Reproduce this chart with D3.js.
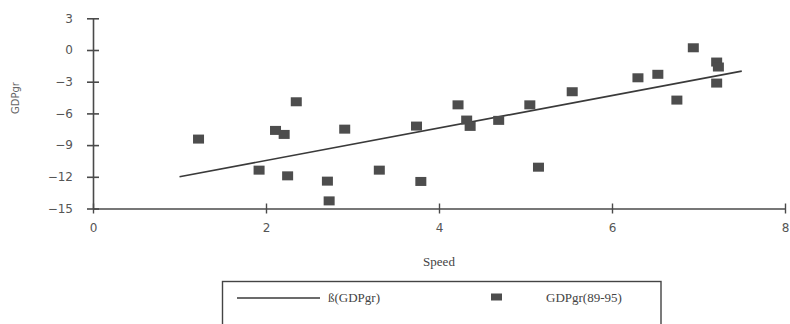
<!DOCTYPE html>
<html>
<head>
<meta charset="utf-8">
<script src="https://cdn.jsdelivr.net/npm/d3@7"></script>
<style>
  html, body { margin: 0; padding: 0; background: #fff; }
  svg { display: block; }
</style>
</head>
<body>
<svg id="chart" width="790" height="324"></svg>
<script>
// ---- data ----
const speed = [1.22, 1.92, 2.11, 2.21, 2.25, 2.35, 2.71, 2.73, 2.91, 3.31, 3.74, 3.79, 4.22, 4.32, 4.36, 4.69, 5.05, 5.15, 5.54, 6.30, 6.53, 6.75, 6.94, 7.21, 7.23, 7.21];
const gdpgr = [-8.43, -11.37, -7.61, -7.99, -11.91, -4.9, -12.41, -14.28, -7.49, -11.37, -7.2, -12.44, -5.19, -6.63, -7.23, -6.66, -5.19, -11.09, -3.95, -2.63, -2.3, -4.74, 0.21, -1.14, -1.61, -3.13];
const fitX = [1.0, 7.5];
const fitY = [-12.0, -2.0];
const xTicks = [0, 2, 4, 6, 8];
const yTicks = [3, 0, -3, -6, -9, -12, -15];
const legendLabels = ["ß(GDPgr)", "GDPgr(89-95)"];
const xTitle = "Speed";
const yTitle = "GDPgr";

// ---- layout ----
const svg = d3.select("#chart");
const x = d3.scaleLinear().domain([0, 8]).range([93, 785]);
const y = d3.scaleLinear().domain([-15, 3]).range([208.5, 18.3]);
const axisColor = "#4a4a4a";
const tickFont = "'DejaVu Sans', sans-serif";
const serif = "'Liberation Serif', 'Times New Roman', serif";

// y axis
const yAxis = svg.append("g").attr("transform", `translate(${x(0)},0)`)
  .call(d3.axisLeft(y).tickValues(yTicks).tickSize(6).tickSizeOuter(0).tickPadding(14));
yAxis.select(".domain").attr("stroke", axisColor).attr("stroke-width", 1.6);
yAxis.selectAll(".tick line").attr("stroke", axisColor).attr("stroke-width", 1.6).attr("x1", 6).attr("x2", -6);
yAxis.selectAll(".tick text").attr("fill", "#555").attr("font-family", tickFont).attr("font-size", 12);

// x axis
const xAxis = svg.append("g").attr("transform", `translate(0,${y(-15)})`)
  .call(d3.axisBottom(x).tickValues(xTicks).tickSize(5).tickSizeOuter(0).tickPadding(10));
xAxis.select(".domain").attr("stroke", axisColor).attr("stroke-width", 1.6);
xAxis.selectAll(".tick line").attr("stroke", axisColor).attr("stroke-width", 1.4).attr("y1", -5).attr("y2", 5);
xAxis.selectAll(".tick text").attr("fill", "#555").attr("font-family", tickFont).attr("font-size", 12);

// titles
svg.append("text").attr("x", x(4)).attr("y", 266).attr("text-anchor", "middle")
  .attr("font-family", serif).attr("font-size", 13).attr("fill", "#444").text(xTitle);
svg.append("text").attr("transform", "translate(19,98) rotate(-90)").attr("text-anchor", "middle")
  .attr("font-family", tickFont).attr("font-size", 10).attr("fill", "#666").text(yTitle);

// fit line
svg.append("line")
  .attr("x1", x(fitX[0])).attr("y1", y(fitY[0]))
  .attr("x2", x(fitX[1])).attr("y2", y(fitY[1]))
  .attr("stroke", "#3a3a3a").attr("stroke-width", 1.6);

// points
const pts = speed.map((s, i) => ({ s, g: gdpgr[i] }));
svg.append("g").selectAll("rect").data(pts).join("rect")
  .attr("x", d => x(d.s) - 5.5).attr("y", d => y(d.g) - 4.5)
  .attr("width", 11).attr("height", 9)
  .attr("fill", "#4d4d4d");

// legend
const lg = svg.append("g");
lg.append("rect").attr("x", 222.5).attr("y", 281.5).attr("width", 438.5).attr("height", 60)
  .attr("fill", "none").attr("stroke", "#444").attr("stroke-width", 1.4);
lg.append("line").attr("x1", 237).attr("x2", 320).attr("y1", 298).attr("y2", 298)
  .attr("stroke", "#3a3a3a").attr("stroke-width", 1.5);
lg.append("text").attr("x", 328).attr("y", 302).attr("font-family", serif).attr("font-size", 13)
  .attr("fill", "#444").text(legendLabels[0]);
lg.append("rect").attr("x", 491).attr("y", 293.5).attr("width", 11).attr("height", 7).attr("fill", "#4d4d4d");
lg.append("text").attr("x", 546).attr("y", 302).attr("font-family", serif).attr("font-size", 13)
  .attr("fill", "#444").text(legendLabels[1]);
</script>
</body>
</html>
